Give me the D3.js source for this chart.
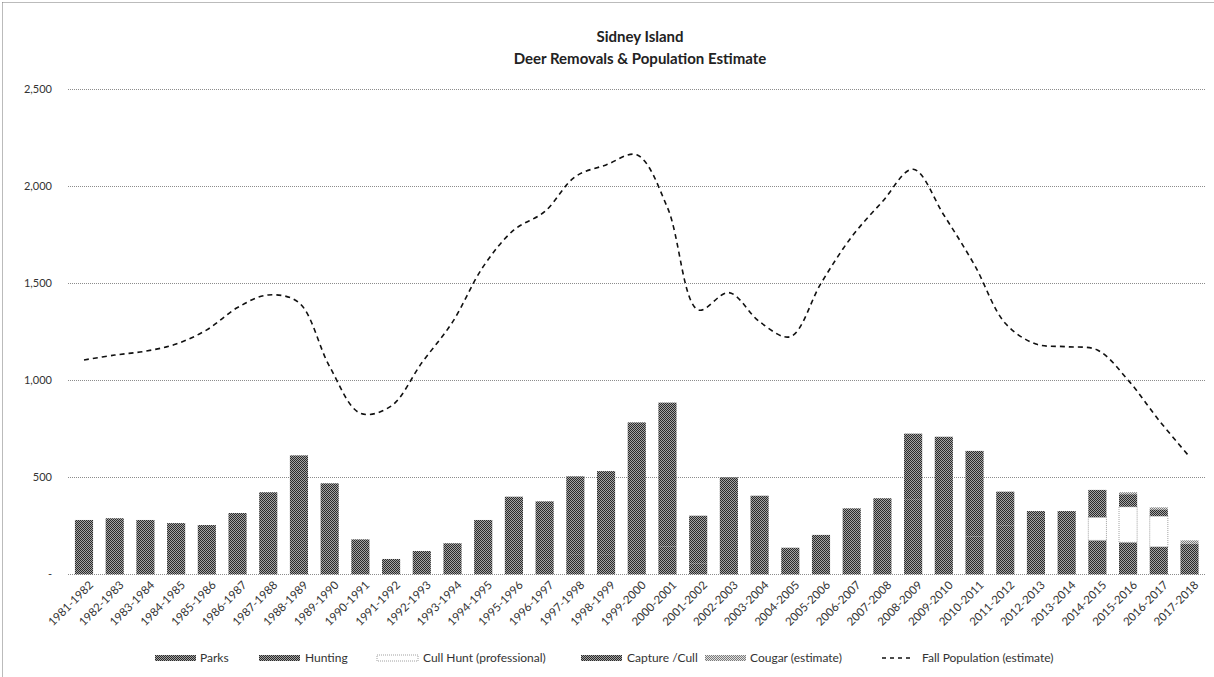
<!DOCTYPE html>
<html>
<head>
<meta charset="utf-8">
<script src="https://cdn.jsdelivr.net/npm/d3@7"></script>
<style>
  html, body { margin: 0; padding: 0; background: #fff; }
  svg { display: block; font-family: Lato, "Open Sans", sans-serif; }
</style>
</head>
<body>
<svg id="chart" width="1214" height="677"></svg>
<script>
// Winter seasons on the x axis
const seasons = [
  "1981-1982","1982-1983","1983-1984","1984-1985","1985-1986","1986-1987","1987-1988",
  "1988-1989","1989-1990","1990-1991","1991-1992","1992-1993","1993-1994","1994-1995",
  "1995-1996","1996-1997","1997-1998","1998-1999","1999-2000","2000-2001","2001-2002",
  "2002-2003","2003-2004","2004-2005","2005-2006","2006-2007","2007-2008","2008-2009",
  "2009-2010","2010-2011","2011-2012","2012-2013","2013-2014","2014-2015","2015-2016",
  "2016-2017","2017-2018"
];

// Deer removed per season, by source
const parks = [
  0, 0, 0, 0, 0, 0, 0, 125, 0, 0, 0, 0, 0, 0, 0, 74, 100, 100, 125, 142, 57,
  0, 0, 0, 0, 0, 0, 0, 0, 0, 0, 0, 0, 175, 165, 142, 156
];
const hunting = [
  280, 289, 280, 264, 254, 316, 423, 488, 469, 180, 79, 120, 160, 280, 400, 302, 405, 432, 658, 743, 245,
  500, 405, 137, 203, 340, 392, 384, 177, 194, 250, 300, 326, 0, 0, 0, 0
];
const cullHunt = [
  0, 0, 0, 0, 0, 0, 0, 0, 0, 0, 0, 0, 0, 0, 0, 0, 0, 0, 0, 0, 0,
  0, 0, 0, 0, 0, 0, 0, 0, 0, 0, 0, 0, 119, 183, 158, 0
];
const captureCull = [
  0, 0, 0, 0, 0, 0, 0, 0, 0, 0, 0, 0, 0, 0, 0, 0, 0, 0, 0, 0, 0,
  0, 0, 0, 0, 0, 0, 341, 532, 442, 176, 26, 0, 141, 65, 35, 0
];
const cougar = [
  0, 0, 0, 0, 0, 0, 0, 0, 0, 0, 0, 0, 0, 0, 0, 0, 0, 0, 0, 0, 0,
  0, 0, 0, 0, 0, 0, 0, 0, 0, 0, 0, 0, 0, 10, 10, 19
];

// Fall population estimate per season
const fallPopulation = [
  1105, 1130, 1150, 1187, 1260, 1375, 1440, 1400, 1070, 830, 867, 1090, 1300, 1586,
  1775, 1869, 2050, 2110, 2162, 1890, 1363, 1452, 1302, 1225, 1500, 1740, 1921, 2088,
  1852, 1594, 1294, 1187, 1173, 1156, 1001, 795, 606
];

const yTicks = [0, 500, 1000, 1500, 2000, 2500];
const yTickLabels = ["-", "500", "1,000", "1,500", "2,000", "2,500"];

const seriesKeys = ["Parks", "Hunting", "Cull Hunt (professional)", "Capture /Cull", "Cougar (estimate)"];
const seriesValues = [parks, hunting, cullHunt, captureCull, cougar];
const lineLabel = "Fall Population (estimate)";

const svg = d3.select("#chart");

// Pattern fills for the bars
const defs = svg.append("defs");
function checker(id, dark, light) {
  const p = defs.append("pattern").attr("id", id)
    .attr("width", 2).attr("height", 2).attr("patternUnits", "userSpaceOnUse");
  p.append("rect").attr("width", 2).attr("height", 2).attr("fill", light);
  p.append("rect").attr("x", 0).attr("y", 0).attr("width", 1).attr("height", 1).attr("fill", dark);
  p.append("rect").attr("x", 1).attr("y", 1).attr("width", 1).attr("height", 1).attr("fill", dark);
}
checker("patDark", "#2a2a2a", "#a4a4a4");
checker("patLight", "#7a7a7a", "#e2e2e2");

const styles = [
  { fill: "url(#patDark)", stroke: "none" },
  { fill: "url(#patDark)", stroke: "none" },
  { fill: "#ffffff", stroke: "#a0a0a0", dash: "1,1" },
  { fill: "url(#patDark)", stroke: "none" },
  { fill: "url(#patLight)", stroke: "none" }
];

// Outer chart frame
svg.append("line").attr("x1", 2.5).attr("x2", 2.5).attr("y1", 2.5).attr("y2", 677)
  .attr("stroke", "#777").attr("stroke-dasharray", "1,1");
svg.append("line").attr("x1", 2.5).attr("x2", 1214).attr("y1", 2.5).attr("y2", 2.5)
  .attr("stroke", "#777").attr("stroke-dasharray", "1,1");

// Scales
const x = d3.scaleBand().domain(seasons).range([68.65, 1204.85])
  .paddingInner(0.41).paddingOuter(0.205);
const y = d3.scaleLinear().domain([0, 2500]).range([574.3, 89.3]);

// Gridlines
svg.append("g").selectAll("line").data(yTicks).join("line")
  .attr("x1", 68).attr("x2", 1205)
  .attr("y1", d => Math.round(y(d)) + 0.5).attr("y2", d => Math.round(y(d)) + 0.5)
  .attr("stroke", "#8c8c8c").attr("stroke-width", 1).attr("stroke-dasharray", "1,1");

// Y axis labels
const yAxis = d3.axisLeft(y).tickValues(yTicks)
  .tickFormat((d, i) => yTickLabels[i]).tickSize(0).tickPadding(0);
const yg = svg.append("g").attr("transform", "translate(52,0)").call(yAxis);
yg.select(".domain").remove();
yg.selectAll("text").attr("font-size", 11).attr("fill", "#333").attr("font-family", "Lato, sans-serif");

// Stacked bars
const table = seasons.map((s, i) => {
  const row = { season: s };
  seriesKeys.forEach((k, j) => row[k] = seriesValues[j][i]);
  return row;
});
const stacked = d3.stack().keys(seriesKeys)(table);

const barG = svg.append("g");
stacked.forEach((layer, j) => {
  const st = styles[j];
  barG.append("g").selectAll("rect")
    .data(layer.filter(d => d[1] - d[0] > 0))
    .join("rect")
    .attr("x", d => x(d.data.season))
    .attr("width", x.bandwidth())
    .attr("y", d => y(d[1]))
    .attr("height", d => y(d[0]) - y(d[1]))
    .attr("fill", st.fill)
    .attr("stroke", st.stroke)
    .attr("stroke-dasharray", st.dash || null)
    .attr("stroke-width", 1);
});

// X axis labels
const xAxis = d3.axisBottom(x).tickSize(0).tickPadding(0);
const xg = svg.append("g").attr("transform", "translate(0,580)").call(xAxis);
xg.select(".domain").remove();
xg.selectAll("text")
  .attr("font-size", 11.5).attr("fill", "#333").attr("font-family", "Lato, sans-serif")
  .attr("text-anchor", "end")
  .attr("transform", "translate(7,3) rotate(-45)")
  .attr("dy", "0.35em").attr("y", 0);

// Population line
const line = d3.line()
  .x((d, i) => x(seasons[i]) + x.bandwidth() / 2)
  .y(d => y(d))
  .curve(d3.curveCatmullRom.alpha(0.5));
svg.append("path").datum(fallPopulation)
  .attr("d", line).attr("fill", "none")
  .attr("stroke", "#111").attr("stroke-width", 1.6)
  .attr("stroke-dasharray", "5,4");

// Title
const title = svg.append("text").attr("x", 640).attr("text-anchor", "middle")
  .attr("font-weight", "bold").attr("font-size", 15).attr("fill", "#222");
title.append("tspan").attr("x", 640).attr("y", 42).text("Sidney Island");
title.append("tspan").attr("x", 640).attr("y", 64).text("Deer Removals & Population Estimate");

// Legend
const legendItems = [
  { label: seriesKeys[0], type: "bar", style: styles[0], sx: 155, tx: 200 },
  { label: seriesKeys[1], type: "bar", style: styles[1], sx: 259, tx: 305 },
  { label: seriesKeys[2], type: "bar", style: styles[2], sx: 377, tx: 423 },
  { label: seriesKeys[3], type: "bar", style: styles[3], sx: 581, tx: 627 },
  { label: seriesKeys[4], type: "bar", style: styles[4], sx: 705, tx: 750 },
  { label: lineLabel, type: "line", sx: 882, tx: 922 }
];
const lg = svg.append("g");
legendItems.forEach(it => {
  const g = lg.append("g");
  if (it.type === "bar") {
    g.append("rect").attr("x", it.sx).attr("y", 655).attr("width", 41).attr("height", 6)
      .attr("fill", it.style.fill)
      .attr("stroke", it.style.stroke)
      .attr("stroke-dasharray", it.style.dash || null);
  } else {
    g.append("line").attr("x1", it.sx).attr("x2", it.sx + 30).attr("y1", 658).attr("y2", 658)
      .attr("stroke", "#111").attr("stroke-width", 1.6).attr("stroke-dasharray", "4,4");
  }
  g.append("text").attr("x", it.tx).attr("y", 662)
    .attr("font-size", 12).attr("fill", "#333").text(it.label);
});
</script>
</body>
</html>
